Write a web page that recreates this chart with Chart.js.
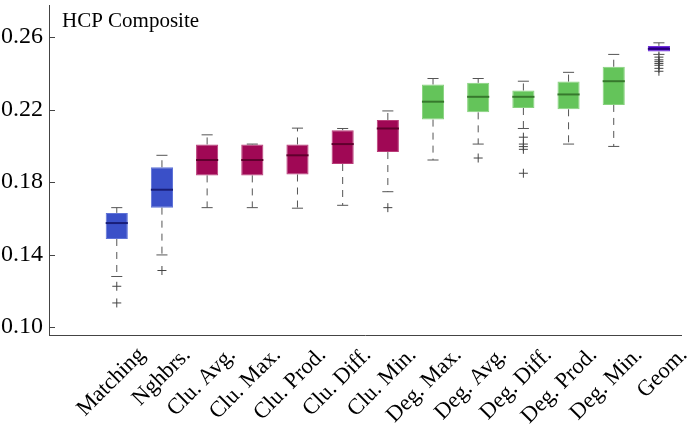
<!DOCTYPE html>
<html>
<head>
<meta charset="utf-8">
<script src="https://cdn.jsdelivr.net/npm/chart.js@4.4.1/dist/chart.umd.min.js"></script>
<style>
  html, body { margin: 0; padding: 0; background: #fff; }
  #wrap { width: 687px; height: 425px; }
</style>
</head>
<body>
<div id="wrap"><canvas id="boxChart"></canvas></div>
<script>
// Box plot values
const categories = ['Matching', 'Nghbrs.', 'Clu. Avg.', 'Clu. Max.', 'Clu. Prod.', 'Clu. Diff.', 'Clu. Min.',
	'Deg. Max.', 'Deg. Avg.', 'Deg. Diff.', 'Deg. Prod.', 'Deg. Min.', 'Geom.'];
const whiskerHigh = [0.1659, 0.1948, 0.2061, 0.2010, 0.2098, 0.2096, 0.2193, 0.2372, 0.2372, 0.2357, 0.2406, 0.2505, 0.2569];
const q3 = [0.1630, 0.1882, 0.2008, 0.2008, 0.2008, 0.2087, 0.2143, 0.2339, 0.2348, 0.2306, 0.2355, 0.2437, 0.2552];
const medians = [0.1574, 0.1758, 0.1922, 0.1922, 0.1948, 0.2010, 0.2096, 0.2244, 0.2271, 0.2271, 0.2284, 0.2357, 0.2536];
const q1 = [0.1486, 0.1659, 0.1837, 0.1837, 0.1842, 0.1900, 0.1966, 0.2145, 0.2185, 0.2209, 0.2202, 0.2226, 0.2521];
const whiskerLow = [0.1279, 0.1398, 0.1659, 0.1659, 0.1656, 0.1672, 0.1747, 0.1922, 0.2010, 0.2096, 0.2010, 0.1997, 0.2505];
const groups = ['base', 'base', 'clu', 'clu', 'clu', 'clu', 'clu', 'deg', 'deg', 'deg', 'deg', 'deg', 'geom'];

const outlierCat = ['Matching', 'Matching', 'Nghbrs.', 'Clu. Min.', 'Deg. Avg.',
	'Deg. Diff.', 'Deg. Diff.', 'Deg. Diff.', 'Deg. Diff.', 'Deg. Diff.',
	'Geom.', 'Geom.', 'Geom.', 'Geom.', 'Geom.', 'Geom.', 'Geom.'];
const outlierVal = [0.1225, 0.1133, 0.1312, 0.1659, 0.1933,
	0.2048, 0.2010, 0.1996, 0.1981, 0.1849,
	0.2490, 0.2475, 0.2465, 0.2455, 0.2445, 0.2428, 0.2412];

const yTicks = [0.10, 0.14, 0.18, 0.22, 0.26];
const chartTitle = 'HCP Composite';

// colours per group
const fillColors = { base: 'rgb(58, 80, 200)', clu: 'rgb(160, 8, 85)', deg: 'rgb(100, 196, 90)', geom: 'rgb(76, 0, 200)' };
const edgeColors = { base: 'rgb(95, 115, 215)', clu: 'rgb(185, 60, 120)', deg: 'rgb(135, 210, 125)', geom: 'rgb(110, 50, 215)' };
const medianColors = { base: 'rgb(25, 30, 120)', clu: 'rgb(95, 0, 45)', deg: 'rgb(55, 120, 45)', geom: 'rgb(40, 0, 120)' };

const serif = '"Liberation Serif", "Times New Roman", serif';
// first slot is left empty, like the reference
const xLabels = [''].concat(categories);

// whiskers, caps, medians and inner y ticks
const boxExtras = {
	id: 'boxExtras',
	afterDatasetsDraw(chart) {
		const { ctx, scales: { x, y }, chartArea } = chart;
		const bar = chart.getDatasetMeta(0);
		ctx.save();
		categories.forEach((c, i) => {
			const el = bar.data[i];
			const cx = x.getPixelForValue(i + 1);
			const half = el.width / 2;
			const capHalf = half / 2;
			const g = groups[i];

			ctx.strokeStyle = '#555';
			ctx.lineWidth = 1;
			// dashed whiskers
			ctx.setLineDash([7, 6]);
			ctx.beginPath();
			ctx.moveTo(cx, y.getPixelForValue(q3[i]));
			ctx.lineTo(cx, y.getPixelForValue(whiskerHigh[i]));
			ctx.moveTo(cx, y.getPixelForValue(q1[i]));
			ctx.lineTo(cx, y.getPixelForValue(whiskerLow[i]));
			ctx.stroke();
			// caps
			ctx.setLineDash([]);
			ctx.beginPath();
			const hy = y.getPixelForValue(whiskerHigh[i]);
			const ly = y.getPixelForValue(whiskerLow[i]);
			ctx.moveTo(cx - capHalf, hy);
			ctx.lineTo(cx + capHalf, hy);
			ctx.moveTo(cx - capHalf, ly);
			ctx.lineTo(cx + capHalf, ly);
			ctx.stroke();
			// median
			ctx.strokeStyle = medianColors[g];
			ctx.lineWidth = 2;
			const my = y.getPixelForValue(medians[i]);
			ctx.beginPath();
			ctx.moveTo(cx - half, my);
			ctx.lineTo(cx + half, my);
			ctx.stroke();
		});

		// inward tick marks on the y axis
		ctx.strokeStyle = '#444';
		ctx.lineWidth = 1;
		yTicks.forEach(v => {
			const py = Math.round(y.getPixelForValue(v)) + 0.5;
			ctx.beginPath();
			ctx.moveTo(chartArea.left, py);
			ctx.lineTo(chartArea.left + 6, py);
			ctx.stroke();
		});

		// title inside the plot
		ctx.fillStyle = '#000';
		ctx.font = '21px ' + serif;
		ctx.textAlign = 'left';
		ctx.textBaseline = 'alphabetic';
		ctx.fillText(chartTitle, chartArea.left + 13, chartArea.top + 21);
		ctx.restore();
	}
};

const ctx = document.getElementById('boxChart').getContext('2d');
const boxChart = new Chart(ctx, {
	type: 'bar',
	data: {
		labels: xLabels,
		datasets: [
			{
				label: 'IQR',
				data: categories.map((c, i) => ({ x: c, y: [q1[i], q3[i]] })),
				backgroundColor: groups.map(g => fillColors[g]),
				borderColor: groups.map(g => edgeColors[g]),
				borderWidth: 1,
				borderSkipped: false,
				barPercentage: 0.49,
				categoryPercentage: 1.0
			},
			{
				type: 'line',
				label: 'Outliers',
				data: outlierCat.map((c, i) => ({ x: c, y: outlierVal[i] })),
				showLine: false,
				pointStyle: 'cross',
				pointRadius: 4.5,
				pointBorderWidth: 1,
				borderColor: '#444',
				backgroundColor: '#444'
			}
		]
	},
	options: {
		responsive: true,
		maintainAspectRatio: false,
		animation: false,
		layout: { padding: { top: 3, right: 4, left: 0, bottom: 0 } },
		plugins: {
			legend: { display: false },
			tooltip: { enabled: false }
		},
		scales: {
			x: {
				type: 'category',
				offset: true,
				grid: { display: false, drawTicks: false },
				border: { color: '#444', width: 1 },
				ticks: {
					color: '#000',
					font: { family: serif, size: 22.5 },
					minRotation: 45,
					maxRotation: 45,
					autoSkip: false,
					labelOffset: 25,
					padding: 7
				},
				afterFit(scale) {
					scale.height = 90;
					scale.paddingLeft = 0;
					scale.paddingRight = 0;
				}
			},
			y: {
				min: 0.0956,
				max: 0.2775,
				grid: { display: false, drawTicks: false },
				border: { color: '#444', width: 1 },
				afterBuildTicks(scale) { scale.ticks = yTicks.map(v => ({ value: v })); },
				ticks: {
					color: '#000',
					font: { family: serif, size: 24 },
					padding: 6,
					callback: v => v.toFixed(2)
				},
				afterFit(scale) {
					scale.width = 49;
					scale.paddingTop = 0;
					scale.paddingBottom = 0;
				}
			}
		}
	},
	plugins: [boxExtras]
});
</script>
</body>
</html>
